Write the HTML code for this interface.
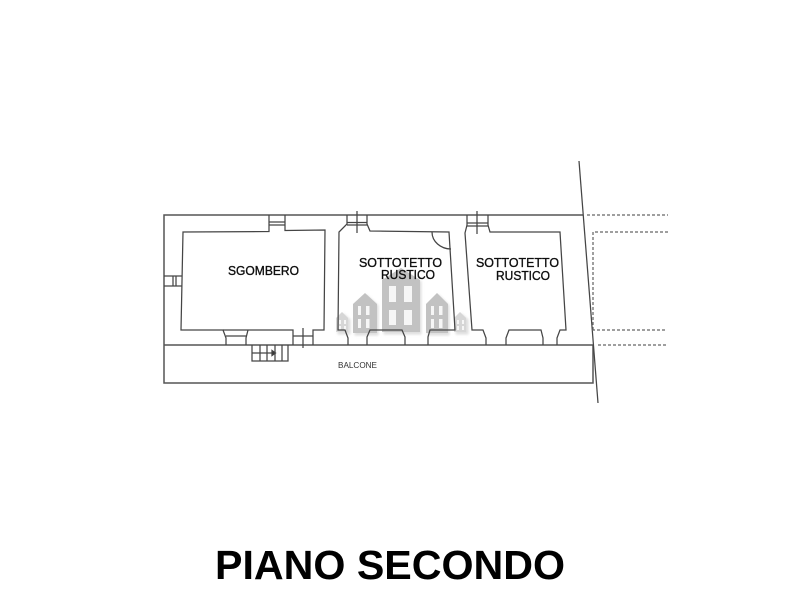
<!DOCTYPE html>
<html>
<head>
<meta charset="utf-8">
<style>
html,body{margin:0;padding:0;background:#fff;width:800px;height:600px;overflow:hidden}
svg{display:block}
text{font-family:"Liberation Sans",Arial,sans-serif}
</style>
</head>
<body>
<svg width="800" height="600" viewBox="0 0 800 600" xmlns="http://www.w3.org/2000/svg">
<defs>
<filter id="s" x="-20%" y="-20%" width="140%" height="140%"><feGaussianBlur stdDeviation="1.2"/></filter>
<filter id="b" x="-5%" y="-5%" width="110%" height="110%"><feGaussianBlur stdDeviation="0.35"/></filter>
</defs>

<!-- watermark -->
<g filter="url(#s)" fill="#dedede" transform="translate(1.5,1.5)">
<path d="M382 280 L401 268 L420 280 V333 H382Z"/>
<path d="M353 304 L365 293 L377 304 V334 H353Z"/>
<path d="M426 304 L437 293 L448 304 V334 H426Z"/>
<path d="M336 318 L342 312 L349 318 V333 H336Z"/>
<path d="M454 318 L460 312 L467 318 V333 H454Z"/>
</g>
<g fill="#c2c2c2" filter="url(#b)">
<path d="M382 280 L401 268 L420 280 V332 H382Z"/>
<path d="M353 304 L365 293 L377 304 V333 H353Z"/>
<path d="M426 304 L437 293 L448 304 V333 H426Z"/>
<path d="M336 318 L342 312 L348 318 V332 H336Z" fill="#d6d6d6"/>
<path d="M454 318 L460 312 L466 318 V332 H454Z" fill="#d6d6d6"/>
</g>
<g fill="#f6f6f6" filter="url(#b)">
<rect x="389" y="286" width="7" height="16"/><rect x="404" y="286" width="8" height="16"/>
<rect x="389" y="310" width="7" height="15"/><rect x="404" y="310" width="8" height="15"/>
<rect x="358" y="306" width="3" height="9"/><rect x="366" y="306" width="3.500" height="9"/>
<rect x="358" y="319" width="3" height="9"/><rect x="366" y="319" width="3.500" height="9"/>
<rect x="431" y="306" width="3" height="9"/><rect x="439" y="306" width="3.500" height="9"/>
<rect x="431" y="319" width="3" height="9"/><rect x="439" y="319" width="3.500" height="9"/>
<rect x="339" y="320" width="2" height="4"/><rect x="344" y="320" width="2" height="4"/>
<rect x="339" y="326" width="2" height="4"/><rect x="344" y="326" width="2" height="4"/>
<rect x="457" y="320" width="2" height="4"/><rect x="462" y="320" width="2" height="4"/>
<rect x="457" y="326" width="2" height="4"/><rect x="462" y="326" width="2" height="4"/>
</g>

<g filter="url(#b)" fill="none" stroke="#444" stroke-width="1.250">
<!-- outer walls -->
<path d="M583 215 H164 V383 H593 V345 H164" stroke="#555" stroke-width="1.500"/>
<!-- boundary line -->
<path d="M579 161 L598 403" stroke="#444"/>
<!-- dashed -->
<g stroke-dasharray="3 2" stroke="#666">
<path d="M587 215 H668"/>
<path d="M668 232 H593 V330"/>
<path d="M592 330 H667"/>
<path d="M598 345 H668"/>
</g>

<!-- room 1 -->
<path d="M269 215 V231.500 L183 232 L181 330 H223 L226 338 V345"/>
<path d="M285 215 V230.500 L325 230 L324 330 H313 V345"/>
<path d="M269 222 H285 M269 225 H285"/>
<path d="M164 276 H182 M164 286 H182 M173 276 V286 M176 276 V286"/>
<path d="M226 336 H247 M223 330 H248 M248 330 L246 338 V345"/>
<path d="M248 330 H293 V345"/>
<path d="M293 336 H313 M303 328 V348"/>
<!-- stairs -->
<path d="M252 345 V361 H288 V345 M260 345 V361 M267 345 V361 M275 345 V361 M282 345 V361 M252 353 H275"/>
<path d="M272 350.500 L275.500 353 L272 355.500Z" fill="#333"/>

<!-- room 2 -->
<path d="M347 215 V224 L339 232 L338 330 H345 L348 338 V345"/>
<path d="M367 215 V224 L370 231 L449 232 L455 330 H430 L428 337 V345"/>
<path d="M347 222.500 H367 M347 225 H367 M357 211 V233"/>
<path d="M367 345 V337 L370 330 H402 L405 337 V345"/>
<path d="M432 232 A19 17 0 0 0 451 249"/>

<!-- room 3 -->
<path d="M467 215 V225 L465 233 L472 330 H483 L486 338 V345"/>
<path d="M488 215 V225 L490 232 L560 232 L566 330 H560 L557 338 V345"/>
<path d="M467 223 H488 M467 226 H488 M477 211 V234"/>
<path d="M506 345 V338 L509 330 H541 L543 338 V345"/>
</g>

<!-- labels -->
<g filter="url(#b)" fill="#111" stroke="#111" stroke-width="0.350">
<text x="228" y="275" font-size="12.500" textLength="71" lengthAdjust="spacingAndGlyphs">SGOMBERO</text>
<text x="359" y="267" font-size="12.500" textLength="83" lengthAdjust="spacingAndGlyphs">SOTTOTETTO</text>
<text x="381" y="279" font-size="12.500" textLength="54" lengthAdjust="spacingAndGlyphs">RUSTICO</text>
<text x="476" y="267" font-size="12.500" textLength="83" lengthAdjust="spacingAndGlyphs">SOTTOTETTO</text>
<text x="496" y="280" font-size="12.500" textLength="54" lengthAdjust="spacingAndGlyphs">RUSTICO</text>
<text x="338" y="368" font-size="8.500" fill="#333" stroke="none" textLength="39" lengthAdjust="spacingAndGlyphs">BALCONE</text>
</g>
<text x="215" y="579" font-size="41" font-weight="bold" fill="#000" textLength="350" lengthAdjust="spacingAndGlyphs">PIANO SECONDO</text>
</svg>
</body>
</html>
